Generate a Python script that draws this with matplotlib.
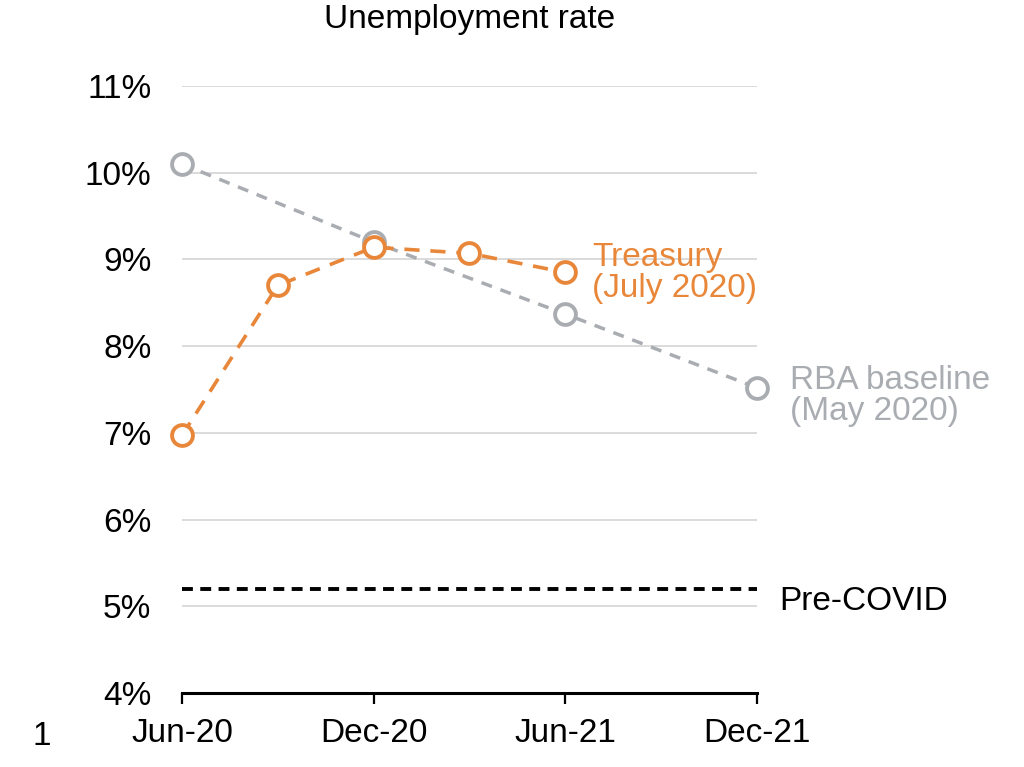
import numpy as np
import matplotlib.pyplot as plt

plt.rcParams['font.family'] = ['Liberation Sans', 'DejaVu Sans']

# months since Jun-20
tick_pos = [0, 6, 12, 18]
tick_labels = ['Jun-20', 'Dec-20', 'Jun-21', 'Dec-21']

treasury_x = [0, 3, 6, 9, 12]
treasury_y = [6.97, 8.70, 9.14, 9.07, 8.85]

rba_x = [0, 6, 12, 18]
rba_y = [10.10, 9.20, 8.37, 7.52]

pre_covid = 5.2

orange = '#E8873A'
grey = '#A9ADB2'

fig = plt.figure(figsize=(10.24, 7.67), dpi=100)
ax = fig.add_axes([0.1777, 0.0965, 0.5615, 0.7914])

ax.set_xlim(0, 18)
ax.set_ylim(4, 11)
for yv in range(5, 12):
    ax.axhline(yv, color='#DADADA', lw=1.4, zorder=0)

ax.plot([0, 18], [pre_covid, pre_covid], color='black', lw=2.8,
        dashes=(2.8, 1.9), zorder=2)

ax.plot(rba_x, rba_y, color=grey, lw=2.5, dashes=(3.2, 2.6),
        marker='o', ms=15, mfc='white', mec=grey, mew=2.8,
        clip_on=False, zorder=3)
ax.plot(treasury_x, treasury_y, color=orange, lw=2.6, dashes=(4.2, 3),
        marker='o', ms=15, mfc='white', mec=orange, mew=2.8,
        clip_on=False, zorder=4)

fs = 24
ax.text(12.83, 8.84, 'Treasury\n(July 2020)', color=orange, fontsize=fs,
        ha='left', va='center', linespacing=1.0)
ax.text(19.03, 7.43, 'RBA baseline\n(May 2020)', color=grey, fontsize=fs,
        ha='left', va='center', linespacing=1.0, clip_on=False)
ax.text(18.69, 5.05, 'Pre-COVID', color='black', fontsize=fs,
        ha='left', va='center', clip_on=False)

ax.set_title('Unemployment rate', fontsize=fs, pad=42)

ax.set_yticks(range(4, 12))
ax.set_yticklabels(['%d%%' % v for v in range(4, 12)])
ax.set_xticks(tick_pos)
ax.set_xticklabels(tick_labels)
ax.tick_params(axis='y', length=0, pad=22, labelsize=fs)
ax.tick_params(axis='x', length=8, width=1.6, pad=10, labelsize=fs)

for side in ['top', 'right', 'left']:
    ax.spines[side].set_visible(False)
ax.spines['bottom'].set_linewidth(2.2)

fig.text(0.041, 0.04, '1', fontsize=fs, ha='center', va='center')

fig.savefig('out.png', dpi=100)
